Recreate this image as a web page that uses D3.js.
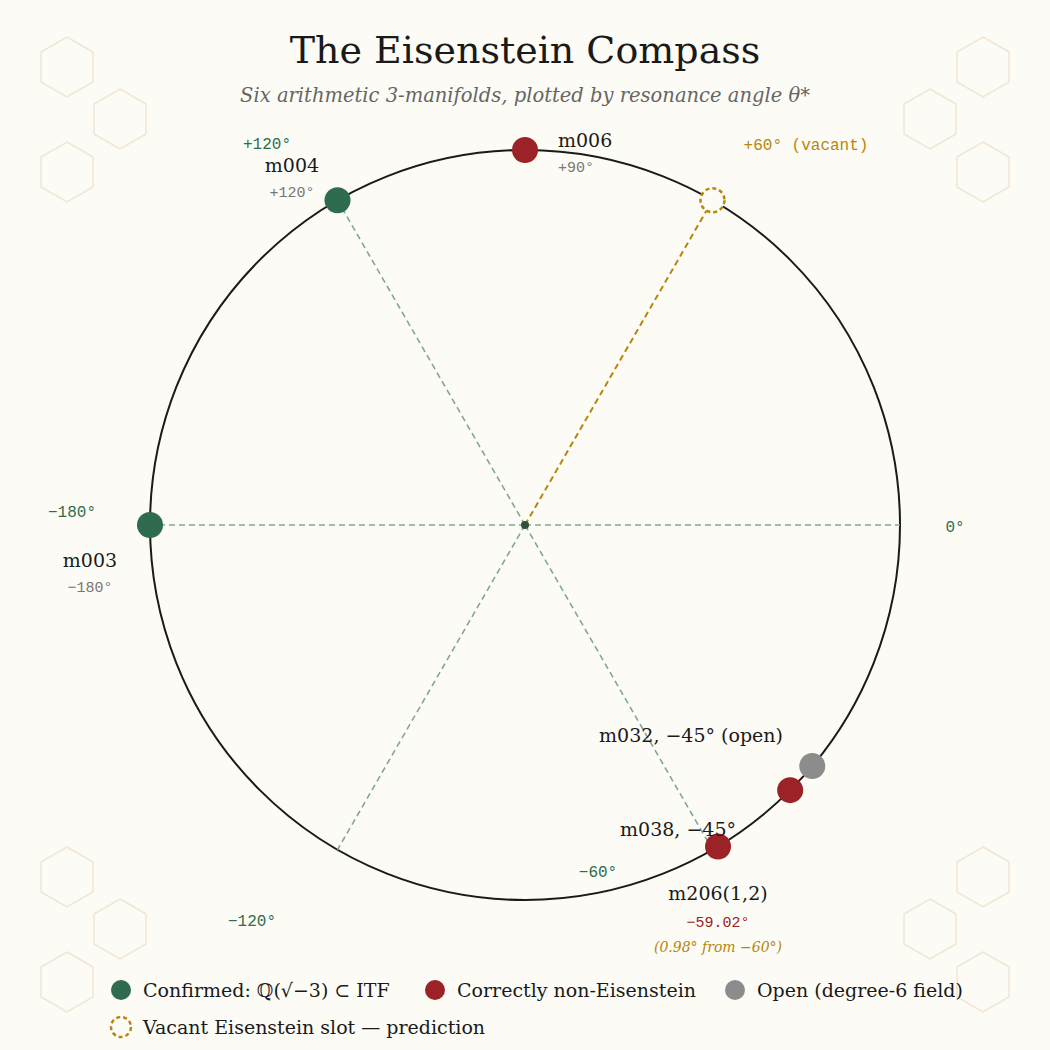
<!DOCTYPE html>
<html><head><meta charset="utf-8">
<script src="https://cdn.jsdelivr.net/npm/d3@7"></script>
<style>body{margin:0;background:#fcfbf5}</style>
</head><body><div id="chart"></div>
<script>
// data
var names = ["m003", "m004", "m006", "m032", "m038", "m206(1,2)"];
var angles = [-180, 120, 90, -40, -45, -59.02];   // plotted angle (m032 nudged off m038)
var kinds = ["confirmed", "confirmed", "non", "open", "non", "non"];
var spokes = [0, 60, 120, 180, -60, -120];
var spokeLabels = ["0°", "+60° (vacant)", "+120°", "−180°", "−60°", "−120°"];
var vacant = 60;

var W = 1050, H = 1050, cx = 525, cy = 525, R = 375;
var green = "#2e6b4f", red = "#9b2226", gray = "#8c8c8c", gold = "#b8860b";
var col = {confirmed: green, non: red, open: gray};
var serif = "DejaVu Serif, serif", mono = "Liberation Mono, monospace";

var svg = d3.select("#chart").append("svg").attr("width", W).attr("height", H);
svg.append("rect").attr("width", W).attr("height", H).attr("fill", "#fcfbf5");

// corner hexagons
var hexC = [[67,67],[120,119],[67,172],[983,67],[930,119],[983,172],
            [67,877],[120,929],[67,982],[983,877],[930,929],[983,982]];
var hex = d3.range(6).map(function(i){var a = Math.PI/3*i - Math.PI/2; return [30*Math.cos(a), 30*Math.sin(a)];});
svg.selectAll(".hex").data(hexC).enter().append("polygon")
  .attr("points", function(d){return hex.map(function(p){return (d[0]+p[0])+","+(d[1]+p[1]);}).join(" ");})
  .attr("fill", "none").attr("stroke", "#f3e5d3").attr("stroke-width", 1.5);

var rad = d3.scaleLinear().domain([0, 360]).range([0, 2*Math.PI]);
function px(a, r){return cx + r*Math.cos(rad(a));}
function py(a, r){return cy - r*Math.sin(rad(a));}

svg.append("text").attr("x", cx).attr("y", 63).attr("text-anchor", "middle")
  .attr("font-family", serif).attr("font-size", 38).attr("fill", "#1a1a1a").text("The Eisenstein Compass");
svg.append("text").attr("x", cx).attr("y", 102).attr("text-anchor", "middle")
  .attr("font-family", serif).attr("font-style", "italic").attr("font-size", 19.5).attr("fill", "#666")
  .text("Six arithmetic 3-manifolds, plotted by resonance angle θ*");

svg.append("circle").attr("cx", cx).attr("cy", cy).attr("r", R).attr("fill", "none")
  .attr("stroke", "#1a1a1a").attr("stroke-width", 2);

svg.selectAll(".spoke").data(spokes).enter().append("line")
  .attr("x1", cx).attr("y1", cy)
  .attr("x2", function(d){return px(d, R);}).attr("y2", function(d){return py(d, R);})
  .attr("stroke", function(d){return d === vacant ? gold : "#82a893";})
  .attr("stroke-width", function(d){return d === vacant ? 2 : 1.6;})
  .attr("stroke-dasharray", "6,4");
svg.append("circle").attr("cx", cx).attr("cy", cy).attr("r", 4).attr("fill", "#2f4f3f");

// spoke label placement
var spokeXY = [[955,532],[806,150],[267,149],[72,517],[598,877],[252,926]];
svg.selectAll(".sl").data(spokes).enter().append("text")
  .attr("x", function(d,i){return spokeXY[i][0];}).attr("y", function(d,i){return spokeXY[i][1];})
  .attr("text-anchor", "middle").attr("font-family", mono).attr("font-size", 16)
  .attr("fill", function(d){return d === vacant ? gold : green;})
  .text(function(d,i){return spokeLabels[i];});

// vacant slot
svg.append("circle").attr("cx", px(vacant, R)).attr("cy", py(vacant, R)).attr("r", 12)
  .attr("fill", "#fcfbf5").attr("stroke", gold).attr("stroke-width", 2.5).attr("stroke-dasharray", "4,3");

// points
svg.selectAll(".pt").data(names).enter().append("circle")
  .attr("cx", function(d,i){return px(angles[i], R);}).attr("cy", function(d,i){return py(angles[i], R);})
  .attr("r", 13).attr("fill", function(d,i){return col[kinds[i]];});

// point labels
var lab = [
  {t:"m003", x:90, y:567, a:"middle", s:"−180°"},
  {t:"m004", x:292, y:172, a:"middle", s:"+120°"},
  {t:"m006", x:558, y:147, a:"start", s:"+90°"},
  {t:"m032, −45° (open)", x:783, y:742, a:"end"},
  {t:"m038, −45°", x:736, y:836, a:"end"},
  {t:"m206(1,2)", x:718, y:900, a:"middle"}
];
lab.forEach(function(l){
  svg.append("text").attr("x", l.x).attr("y", l.y).attr("text-anchor", l.a)
    .attr("font-family", serif).attr("font-size", 19).attr("fill", "#1a1a1a").text(l.t);
  if (l.s) svg.append("text").attr("x", l.x).attr("y", l.y + 25).attr("text-anchor", l.a)
    .attr("font-family", mono).attr("font-size", 15).attr("fill", "#777").text(l.s);
});
svg.append("text").attr("x", 718).attr("y", 927).attr("text-anchor", "middle")
  .attr("font-family", mono).attr("font-size", 15).attr("fill", red).text("−59.02°");
svg.append("text").attr("x", 718).attr("y", 952).attr("text-anchor", "middle")
  .attr("font-family", serif).attr("font-style", "italic").attr("font-size", 14).attr("fill", gold)
  .text("(0.98° from −60°)");

// legend
var leg = [
  {x:121, y:990, c:green, t:"Confirmed: ℚ(√−3) ⊂ ITF"},
  {x:435, y:990, c:red, t:"Correctly non-Eisenstein"},
  {x:735, y:990, c:gray, t:"Open (degree-6 field)"},
  {x:121, y:1027, c:null, t:"Vacant Eisenstein slot — prediction"}
];
leg.forEach(function(l){
  var c = svg.append("circle").attr("cx", l.x).attr("cy", l.y).attr("r", 10);
  if (l.c) c.attr("fill", l.c);
  else c.attr("fill", "none").attr("stroke", gold).attr("stroke-width", 2.5).attr("stroke-dasharray", "4,3");
  svg.append("text").attr("x", l.x + 22).attr("y", l.y + 7).attr("font-family", serif)
    .attr("font-size", 19).attr("fill", "#1a1a1a").text(l.t);
});
</script></body></html>
